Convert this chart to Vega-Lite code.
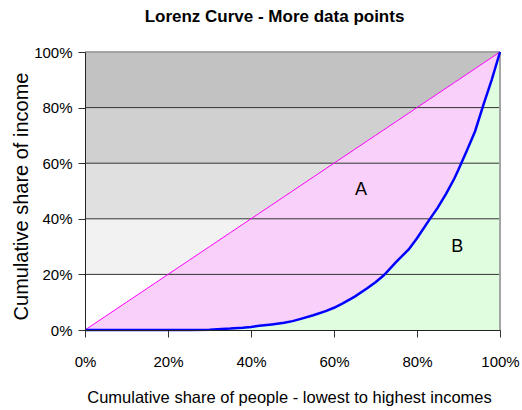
{
  "$schema": "https://vega.github.io/schema/vega-lite/v6.json",
  "width": 415,
  "height": 278,
  "autosize": "none",
  "padding": {"left": 85, "top": 52, "right": 22, "bottom": 80},
  "background": "white",
  "config": {"view": {"stroke": null}, "font": "Liberation Sans"},
  "title": {"text": "Lorenz Curve - More data points", "fontSize": 17, "font": "Liberation Sans", "fontWeight": "bold", "color": "black", "offset": 19, "dx": -18},
  "datasets": {
    "bands": [
      {"lo": 0, "hi": 0.2, "band": "b1"},
      {"lo": 0.2, "hi": 0.4, "band": "b2"},
      {"lo": 0.4, "hi": 0.6, "band": "b3"},
      {"lo": 0.6, "hi": 0.8, "band": "b4"},
      {"lo": 0.8, "hi": 1.0, "band": "b5"}
    ],
    "curve": [
      {"x": 0, "y": 0}, {"x": 0.05, "y": 0}, {"x": 0.1, "y": 0}, {"x": 0.15, "y": 0},
      {"x": 0.2, "y": 0}, {"x": 0.25, "y": 0}, {"x": 0.3, "y": 0.001}, {"x": 0.32, "y": 0.003},
      {"x": 0.35, "y": 0.005}, {"x": 0.38, "y": 0.008}, {"x": 0.4, "y": 0.011}, {"x": 0.42, "y": 0.015},
      {"x": 0.45, "y": 0.02}, {"x": 0.48, "y": 0.026}, {"x": 0.5, "y": 0.032}, {"x": 0.52, "y": 0.04},
      {"x": 0.55, "y": 0.053}, {"x": 0.58, "y": 0.068}, {"x": 0.6, "y": 0.08}, {"x": 0.62, "y": 0.095},
      {"x": 0.65, "y": 0.12}, {"x": 0.68, "y": 0.15}, {"x": 0.7, "y": 0.172}, {"x": 0.72, "y": 0.197},
      {"x": 0.75, "y": 0.245}, {"x": 0.78, "y": 0.29}, {"x": 0.8, "y": 0.33}, {"x": 0.83, "y": 0.397},
      {"x": 0.85, "y": 0.44}, {"x": 0.87, "y": 0.49}, {"x": 0.89, "y": 0.545}, {"x": 0.9, "y": 0.577},
      {"x": 0.92, "y": 0.645}, {"x": 0.94, "y": 0.715}, {"x": 0.96, "y": 0.81}, {"x": 0.98, "y": 0.9},
      {"x": 1.0, "y": 1.0}
    ],
    "grid": [{"g": 0.2}, {"g": 0.4}, {"g": 0.6}, {"g": 0.8}],
    "labels": [
      {"x": 0.665, "y": 0.504, "text": "A"},
      {"x": 0.897, "y": 0.298, "text": "B"}
    ]
  },
  "layer": [
    {
      "data": {"name": "bands"},
      "mark": {"type": "rect"},
      "encoding": {
        "x": {"datum": 0, "type": "quantitative", "scale": {"domain": [0, 1], "nice": false},
          "axis": {"values": [0, 0.2, 0.4, 0.6, 0.8, 1], "format": ".0%", "grid": false,
            "labelFontSize": 15, "labelColor": "black", "labelPadding": 17, "labelFlush": false, "labelOverlap": false,
            "tickSize": 7, "tickColor": "#333", "domainColor": "#222", "zindex": 2,
            "title": "Cumulative share of people - lowest to highest incomes", "titleFontSize": 16.5, "titleFontWeight": "normal", "titleColor": "black",
            "titleX": 204, "titleY": 67, "titleBaseline": "middle"}},
        "x2": {"datum": 1},
        "y": {"field": "lo", "type": "quantitative", "scale": {"domain": [0, 1], "nice": false},
          "axis": {"values": [0, 0.2, 0.4, 0.6, 0.8, 1], "format": ".0%", "grid": false,
            "labelFontSize": 15, "labelColor": "black", "labelPadding": 6, "labelFlush": false, "labelOverlap": false,
            "tickSize": 7, "tickColor": "#333", "domainColor": "#222", "zindex": 2,
            "title": "Cumulative share of income", "titleFontSize": 20, "titleFontWeight": "normal", "titleColor": "black",
            "titleX": -64, "titleY": 144, "titleBaseline": "middle", "titleAngle": 270}},
        "y2": {"field": "hi"},
        "color": {"field": "band", "type": "nominal", "legend": null,
          "scale": {"domain": ["b1", "b2", "b3", "b4", "b5"], "range": ["#ffffff", "#f2f2f2", "#e0e0e0", "#d0d0d0", "#c2c2c2"]}}
      }
    },
    {
      "data": {"name": "curve"},
      "mark": {"type": "area", "color": "#e0fde0", "opacity": 1},
      "encoding": {
        "x": {"field": "x", "type": "quantitative"},
        "y": {"field": "y", "type": "quantitative"},
        "y2": {"datum": 0}
      }
    },
    {
      "data": {"name": "curve"},
      "mark": {"type": "area", "color": "#f9d0f9", "opacity": 1},
      "encoding": {
        "x": {"field": "x", "type": "quantitative"},
        "y": {"field": "y", "type": "quantitative"},
        "y2": {"field": "x"}
      }
    },
    {
      "data": {"name": "grid"},
      "mark": {"type": "rule", "color": "#333", "strokeWidth": 1},
      "encoding": {
        "y": {"field": "g", "type": "quantitative"}
      }
    },
    {
      "data": {"name": "grid"},
      "mark": {"type": "rule", "color": "#a0a0a0", "strokeWidth": 1},
      "encoding": {
        "y": {"datum": 1, "type": "quantitative"}
      }
    },
    {
      "data": {"name": "grid"},
      "mark": {"type": "rule", "color": "#a0a0a0", "strokeWidth": 1},
      "encoding": {
        "x": {"datum": 1, "type": "quantitative"}
      }
    },
    {
      "data": {"name": "curve"},
      "mark": {"type": "line", "color": "#ff00ff", "strokeWidth": 1},
      "encoding": {
        "x": {"field": "x", "type": "quantitative"},
        "y": {"field": "x", "type": "quantitative"}
      }
    },
    {
      "data": {"name": "curve"},
      "mark": {"type": "line", "color": "#0000ff", "strokeWidth": 2.5},
      "encoding": {
        "x": {"field": "x", "type": "quantitative"},
        "y": {"field": "y", "type": "quantitative"}
      }
    },
    {
      "data": {"name": "labels"},
      "mark": {"type": "text", "fontSize": 18, "color": "black", "font": "Liberation Sans"},
      "encoding": {
        "x": {"field": "x", "type": "quantitative"},
        "y": {"field": "y", "type": "quantitative"},
        "text": {"field": "text"}
      }
    }
  ]
}
